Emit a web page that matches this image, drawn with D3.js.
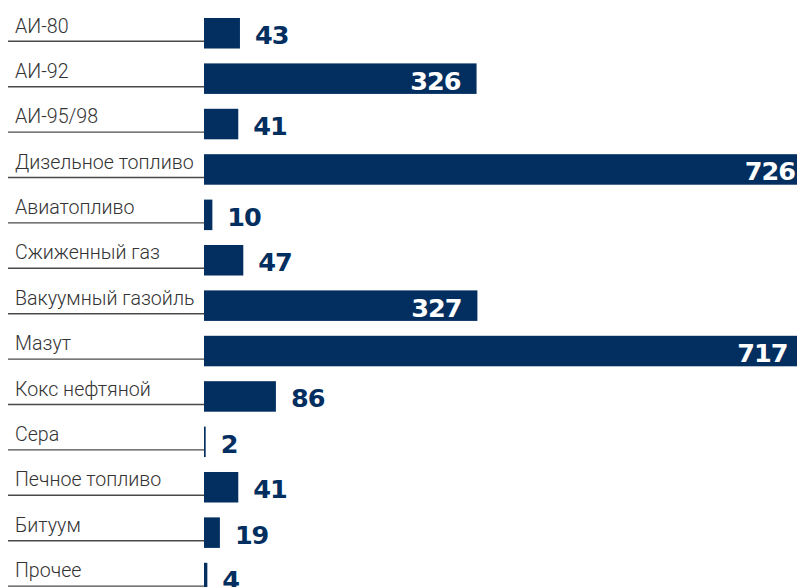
<!DOCTYPE html>
<html>
<head>
<meta charset="utf-8">
<script src="https://cdn.jsdelivr.net/npm/d3@7"></script>
<style>
  html, body { margin: 0; padding: 0; background: #fff; }
  svg { display: block; }
</style>
</head>
<body>
<svg id="chart" width="797" height="587"></svg>
<script>
// Product categories and volumes
const categories = [
  "АИ-80", "АИ-92", "АИ-95/98", "Дизельное топливо", "Авиатопливо",
  "Сжиженный газ", "Вакуумный газойль", "Мазут", "Кокс нефтяной",
  "Сера", "Печное топливо", "Битуум", "Прочее"
];
const values = [43, 326, 41, 726, 10, 47, 327, 717, 86, 2, 41, 19, 4];

const barColor = "#022e60";
const svg = d3.select("#chart");

const x = d3.scaleLinear().domain([0, 726]).range([204, 811]);
const y = d3.scaleBand()
  .domain(categories)
  .range([18, 593.3])
  .paddingInner(0.328)
  .paddingOuter(0);

const data = categories.map((c, i) => ({ c, v: values[i] }));
const insideThreshold = 300;

const row = svg.selectAll("g.row").data(data).enter().append("g")
  .attr("class", "row")
  .attr("transform", d => `translate(0,${y(d.c)})`);

// category underline
row.append("line")
  .attr("x1", 8).attr("x2", x(0))
  .attr("y1", 23.3).attr("y2", 23.3)
  .attr("stroke", "#4a4a4a").attr("stroke-width", 1.4);

// category label
row.append("text")
  .attr("x", 15).attr("y", 14.5)
  .attr("font-family", "Roboto, 'Liberation Sans', sans-serif")
  .attr("font-weight", 300)
  .attr("font-size", 19.6)
  .attr("fill", "#333")
  .text(d => d.c);

// bars
row.append("rect")
  .attr("x", x(0))
  .attr("y", 0)
  .attr("width", d => x(d.v) - x(0))
  .attr("height", y.bandwidth())
  .attr("fill", barColor);

// value labels
row.append("text")
  .attr("x", d => d.v > insideThreshold ? x(d.v) - 16 : x(d.v) + 15)
  .attr("y", 26.2)
  .attr("text-anchor", d => d.v > insideThreshold ? "end" : "start")
  .attr("font-family", "'DejaVu Sans', sans-serif")
  .attr("font-weight", 700)
  .attr("font-size", 25.5)
  .attr("letter-spacing", -1)
  .attr("fill", d => d.v > insideThreshold ? "#fff" : barColor)
  .text(d => d.v);
</script>
</body>
</html>
